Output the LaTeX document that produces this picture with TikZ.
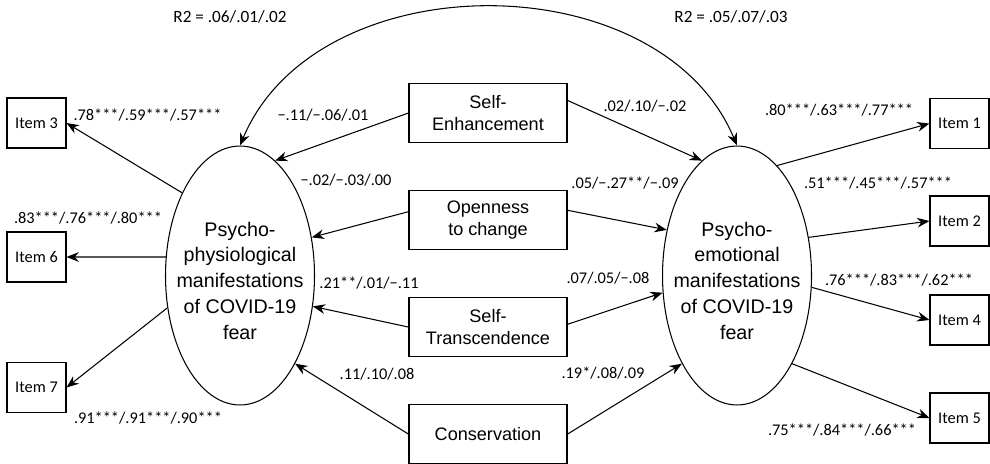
\documentclass[tikz,border=0pt]{standalone}
\usepackage{fontspec}
\setmainfont{Liberation Sans}
\newfontfamily\carlito{Carlito}
\usetikzlibrary{arrows.meta,shapes.geometric,positioning}
\def\BoxWidth{3.16cm}
\def\BoxHeight{1.18cm}
\def\ItemWidth{1.18cm}
\def\ItemHeight{1cm}
\tikzset{
  valuebox/.style={draw, line width=0.6pt, minimum width=\BoxWidth, minimum height=\BoxHeight,
    align=center, inner sep=0pt, font=\fontsize{10.3}{12.5}\selectfont},
  itembox/.style={draw, line width=0.6pt, minimum width=\ItemWidth, minimum height=\ItemHeight,
    inner sep=0pt, font=\carlito\fontsize{9.3}{11}\selectfont},
  latent/.style={draw, ellipse, line width=0.6pt, minimum width=2.98cm, minimum height=5.18cm, inner sep=0pt},
  lattext/.style={align=center, yshift=-3pt, font=\fontsize{11.2}{14.7}\selectfont},
  coef/.style={inner sep=0pt, font=\carlito\fontsize{9.3}{11}\selectfont},
  effect/.style={line width=0.6pt, -{Stealth[length=7pt,width=5.5pt]}},
}

\begin{document}
\begin{tikzpicture}[x=0.02cm,y=-0.02cm]
  \useasboundingbox (0,0) rectangle (990,463);
  % latent factors
  \node[latent, label={[lattext]center:{Psycho-\\physiological\\manifestations\\of COVID-19\\fear}}] (phys) at (240,275.5) {};
  \node[latent, label={[lattext]center:{Psycho-\\emotional\\manifestations\\of COVID-19\\fear}}] (emo) at (737,275.5) {};
  % values
  \node[valuebox] (se) at (488,113) {Self-\\Enhancement};
  \node[valuebox, below=0.94cm of se] (oc) {Openness\\to change};
  \node[valuebox, below=0.94cm of oc] (st) {Self-\\Transcendence};
  \node[valuebox, below=0.94cm of st] (co) {Conservation};
  % items
  \node[itembox] (i3) at (36.5,123) {Item 3};
  \node[itembox] (i6) at (36.5,257) {Item 6};
  \node[itembox] (i7) at (36.5,387.5) {Item 7};
  \node[itembox] (i1) at (959.5,123.5) {Item 1};
  \node[itembox] (i2) at (959.5,221) {Item 2};
  \node[itembox] (i4) at (959.5,320) {Item 4};
  \node[itembox] (i5) at (959.5,418) {Item 5};
  %
  \draw[effect] (se.west) -- (phys.73);
  \draw[effect] (se.9) -- (emo.107);
  \draw[effect] (oc.174) -- (phys.28);
  \draw[effect] (oc.7) -- (emo.147);
  \draw[effect] (st.west) -- (phys.-23);
  \draw[effect] (st.2) -- (emo.193);
  \draw[effect] (co.west) -- (phys.-58);
  \draw[effect] (co.east) -- (emo.238);
  %
  \draw[effect] (phys.125) -- (i3.east);
  \draw[effect] (phys.166) -- (i6.east);
  \draw[effect] (phys.204) -- (i7.east);
  \draw[effect] (emo.70) -- (i1.west);
  \draw[effect] (emo.28) -- (i2.west);
  \draw[effect] (emo.-9.5) -- (i4.west);
  \draw[effect] (emo.-58) -- (i5.west);
  % covariance
  \draw[effect, {Stealth[length=7pt,width=5.5pt]}-{Stealth[length=7pt,width=5.5pt]}]
    (emo.north) .. controls +(-77,-184) and +(77,-184) .. (phys.north);
  % coefficients
  \node[coef, font=\carlito\fontsize{9.8}{11}\selectfont] (r2p) at (230,17) {R2 = .06/.01/.02};
  \node[coef, font=\carlito\fontsize{9.8}{11}\selectfont] (r2e) at (731,17) {R2 = .05/.07/.03};
  \node[coef] (c3) at (147.5,115) {.78***/.59***/.57***};
  \node[coef] (c6) at (88,218) {.83***/.76***/.80***};
  \node[coef] (c7) at (148,418) {.91***/.91***/.90***};
  \node[coef] (sep) at (323,115) {−.11/−.06/.01};
  \node[coef] (ocp) at (346,180) {−.02/−.03/.00};
  \node[coef] (stp) at (369,283) {.21**/.01/−.11};
  \node[coef] (cop) at (377,374) {.11/.10/.08};
  \node[coef] (see) at (645,106) {.02/.10/−.02};
  \node[coef] (oce) at (625,183) {.05/−.27**/−.09};
  \node[coef] (ste) at (608,278) {.07/.05/−.08};
  \node[coef] (coe) at (603,373) {.19*/.08/.09};
  \node[coef] (c1) at (839,110) {.80***/.63***/.77***};
  \node[coef] (c2) at (878,183) {.51***/.45***/.57***};
  \node[coef] (c4) at (899,280) {.76***/.83***/.62***};
  \node[coef] (c5) at (842,430) {.75***/.84***/.66***};
\end{tikzpicture}
\end{document}
